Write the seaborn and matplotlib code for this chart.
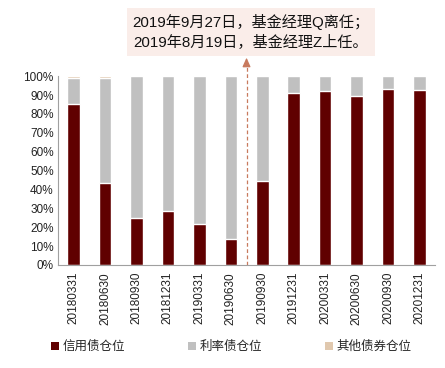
import matplotlib
matplotlib.use("Agg")
import matplotlib.pyplot as plt
import seaborn as sns
import pandas as pd
import numpy as np
from matplotlib.patches import Patch

dates = ["20180331", "20180630", "20180930", "20181231", "20190331", "20190630",
         "20190930", "20191231", "20200331", "20200630", "20200930", "20201231"]
credit = [85.3, 43.2, 24.8, 28.7, 21.8, 14.0, 44.4, 91.2, 92.4, 89.4, 93.1, 92.9]
other = [0.8, 0.8, 0, 0, 0, 0, 0, 0, 0, 0, 0, 0]
rates = [100 - c - o for c, o in zip(credit, other)]
series_names = ["信用债仓位", "利率债仓位", "其他债券仓位"]
colors = ["#600000", "#c0c0c0", "#e0c8ae"]
note = "2019年9月27日，基金经理Q离任；\n2019年8月19日，基金经理Z上任。"

sns.set_theme(style="white")
plt.rcParams['font.family'] = ['Liberation Sans', 'Noto Sans CJK SC', 'DejaVu Sans']

df = pd.DataFrame({"date": dates, "credit": credit, "rates": rates, "other": other})
df["cr"] = df["credit"] + df["rates"]
df["total"] = df["cr"] + df["other"]

fig = plt.figure(figsize=(4.45, 3.68), dpi=100)
ax = fig.add_axes([0.130, 0.280, 0.848, 0.513])

sns.barplot(data=df, x="date", y="total", color=colors[2], width=0.4, ax=ax, saturation=1)
sns.barplot(data=df, x="date", y="cr", color=colors[1], width=0.4, ax=ax, saturation=1)
sns.barplot(data=df, x="date", y="credit", color=colors[0], width=0.4, ax=ax, saturation=1)

ax.set_xlim(-0.5, len(dates) - 0.5)
ax.set_ylim(0, 100)
ax.set_yticks(np.arange(0, 101, 10))
ax.set_yticklabels([f"{v}%" for v in range(0, 101, 10)], fontsize=8.5, color="#222222")
ax.set_xticks(range(len(dates)))
ax.set_xticklabels(dates, rotation=90, fontsize=8.5, color="#222222")
ax.set_xlabel("")
ax.set_ylabel("")
ax.tick_params(axis="x", length=0, pad=5)
ax.tick_params(axis="y", length=0, pad=3)
# boundary ticks on x-axis
ax.set_xticks(np.arange(-0.5, len(dates), 1), minor=True)
ax.tick_params(axis="x", which="minor", length=4, color="#a0a0a0", width=0.8, direction="out")
for s in ["top", "right"]:
    ax.spines[s].set_visible(False)
for s in ["left", "bottom"]:
    ax.spines[s].set_color("#a0a0a0")
    ax.spines[s].set_linewidth(0.8)

# dashed divider with arrow
ax.plot([5.5, 5.5], [0, 107], linestyle=(0, (3, 2)), color="#c87a5e", lw=0.9, clip_on=False)
ax.annotate("", xy=(5.5, 109.8), xytext=(5.5, 105.5),
            arrowprops=dict(arrowstyle="-|>,head_length=0.45,head_width=0.2",
                            color="#c87a5e", lw=0.9, shrinkA=0, shrinkB=0),
            annotation_clip=False)

fig.text(251 / 445, 1 - 32 / 368, note, ha="center", va="center", fontsize=10.9,
         color="#111111", linespacing=1.45,
         bbox=dict(boxstyle="square,pad=0.35", facecolor="#faede9", edgecolor="none"))

handles = [Patch(facecolor=c, edgecolor="none") for c in colors]
fig.legend(handles, series_names, loc="center", bbox_to_anchor=(0.52, 0.057), ncol=3,
           frameon=False, fontsize=9, handlelength=0.65, handleheight=0.65,
           handletextpad=0.3, columnspacing=5.0)

fig.savefig("out.png", dpi=100)
